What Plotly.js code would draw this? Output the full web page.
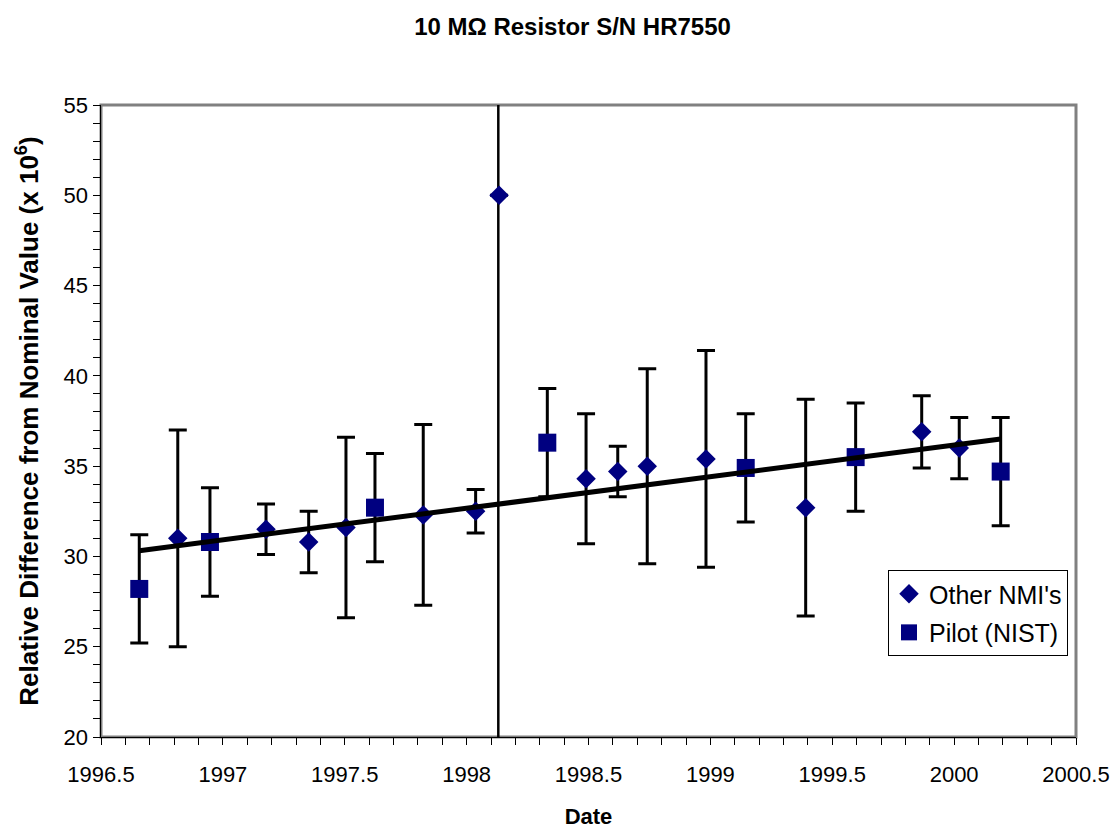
<!DOCTYPE html>
<html>
<head>
<meta charset="utf-8">
<script src="https://cdn.plot.ly/plotly-3.0.1.min.js"></script>
<style>html,body{margin:0;padding:0;background:#fff}#chart{width:1116px;height:829px}</style>
</head>
<body>
<div id="chart"></div>
<script>
// Other NMI's (diamonds)
const otherDates = [1996.815, 1997.177, 1997.352, 1997.505, 1997.822, 1998.037, 1998.133, 1998.490, 1998.620, 1998.741, 1998.982, 1999.391, 1999.867, 2000.021];
const otherValues = [31.0, 31.5, 30.8, 31.6, 32.3, 32.5, 50.0, 34.3, 34.7, 35.0, 35.4, 32.7, 36.9, 36.0];
const otherUnc = [6.0, 1.4, 1.7, 5.0, 5.0, 1.2, 0, 3.6, 1.4, 5.4, 6.0, 6.0, 2.0, 1.7];

// Pilot (NIST) (squares)
const pilotDates = [1996.657, 1996.947, 1997.624, 1998.331, 1999.145, 1999.596, 2000.191];
const pilotValues = [28.2, 30.8, 32.7, 36.3, 34.9, 35.5, 34.7];
const pilotUnc = [3.0, 3.0, 3.0, 3.0, 3.0, 3.0, 3.0];

// Linear trend line end points
const trendDates = [1996.657, 2000.191];
const trendValues = [30.32, 36.5];

// Vertical reference line
const refLineDates = [1998.13, 1998.13];
const refLineValues = [20, 55];

const navy = '#000080';
const font = 'Arial, "Liberation Sans", sans-serif';

const traces = [
  {
    x: refLineDates, y: refLineValues, mode: 'lines', type: 'scatter',
    line: {color: '#000', width: 2.5}, showlegend: false, hoverinfo: 'skip'
  },
  {
    x: otherDates, y: otherValues, mode: 'markers', type: 'scatter', name: "Other NMI's",
    legendgroup: 'a',
    marker: {symbol: 'diamond', size: 15, color: navy},
    error_y: {type: 'data', array: otherUnc, visible: true, color: '#000', thickness: 3, width: 9}
  },
  {
    x: pilotDates, y: pilotValues, mode: 'markers', type: 'scatter', name: 'Pilot (NIST)',
    legendgroup: 'b',
    marker: {symbol: 'square', size: 18, color: navy},
    error_y: {type: 'data', array: pilotUnc, visible: true, color: '#000', thickness: 3, width: 9}
  },
  {
    x: trendDates, y: trendValues, mode: 'lines', type: 'scatter',
    line: {color: '#000', width: 5}, showlegend: false, hoverinfo: 'skip'
  }
];

const layout = {
  width: 1116, height: 829,
  margin: {l: 101, r: 40, t: 105, b: 92},
  paper_bgcolor: '#fff', plot_bgcolor: '#fff',
  font: {family: font, color: '#000'},
  separators: '.,',
  showlegend: true,
  title: {
    text: '<b>10 MΩ Resistor S/N HR7550</b>',
    font: {family: font, size: 24, color: '#000'},
    x: 0.513, xref: 'container', xanchor: 'center',
    y: 0.968, yref: 'container', yanchor: 'middle'
  },
  xaxis: {
    range: [1996.5, 2000.5], dtick: 0.5, tick0: 1996.5,
    tickformat: '.1~f',
    showgrid: false, zeroline: false,
    showline: true, linecolor: '#000', linewidth: 1,
    ticks: 'outside', ticklen: 7, tickcolor: '#000', tickwidth: 1,
    minor: {dtick: 0.1, ticks: 'outside', ticklen: 7, tickcolor: '#000', tickwidth: 1, showgrid: false},
    tickfont: {family: font, size: 22, color: '#000'},
    ticklabelstandoff: 11,
    title: {text: '<b>Date</b>', font: {family: font, size: 22, color: '#000'}, standoff: 22}
  },
  yaxis: {
    range: [20, 55], dtick: 5, tick0: 20,
    showgrid: false, zeroline: false,
    showline: true, linecolor: '#000', linewidth: 1.5,
    ticks: 'outside', ticklen: 7, tickcolor: '#000', tickwidth: 1,
    minor: {dtick: 1, ticks: 'outside', ticklen: 7, tickcolor: '#000', tickwidth: 1, showgrid: false},
    tickfont: {family: font, size: 22, color: '#000'},
    ticklabelstandoff: 0,
    title: {text: '<b>Relative Difference from Nominal Value (x 10<sup>6</sup>)</b>', font: {family: font, size: 26, color: '#000'}, standoff: 17}
  },
  legend: {
    x: 0.9918, xanchor: 'right', y: 0.128, yanchor: 'bottom',
    bgcolor: '#fff', bordercolor: '#000', borderwidth: 1,
    font: {family: font, size: 25, color: '#000'},
    traceorder: 'grouped', tracegroupgap: 3, itemwidth: 30
  },
  shapes: [
    {type: 'rect', xref: 'paper', yref: 'paper', x0: 0, x1: 1, y0: 0, y1: 1,
     line: {color: '#808080', width: 3}, layer: 'below'}
  ]
};

Plotly.newPlot('chart', traces, layout, {displayModeBar: false, staticPlot: true});
</script>
</body>
</html>
